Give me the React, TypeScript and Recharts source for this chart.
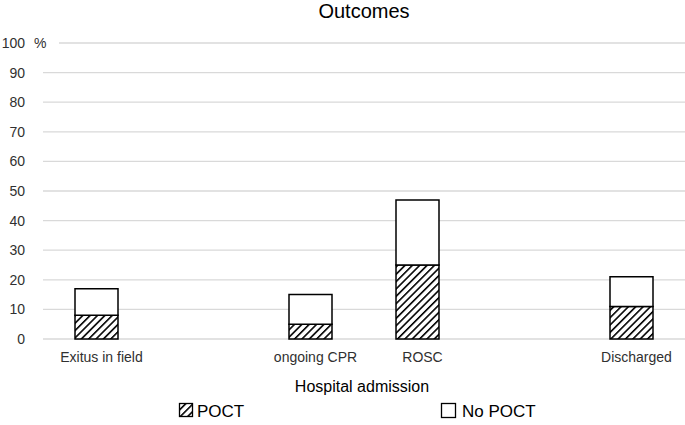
import React from 'react';
import { BarChart, Bar, XAxis, YAxis, CartesianGrid } from 'recharts';

const categories = ['Exitus in field', '', 'ongoing CPR', 'ROSC', '', 'Discharged'];
const poct = [8, null, 5, 25, null, 11];
const noPoct = [9, null, 10, 22, null, 10];
const yTicks = [0, 10, 20, 30, 40, 50, 60, 70, 80, 90, 100];

const data = categories.map((c, i) => ({ name: c, idx: i, poct: poct[i], noPoct: noPoct[i] }));

const FONT = '"Liberation Sans", Arial, sans-serif';

const YTick = (props: any) => {
  const { x, y, payload } = props;
  const v = payload.value;
  return (
    <g>
      {v === 100 && <rect x={43} y={y - 3} width={16} height={6} fill="#fff" />}
      <text x={x - 1} y={y} dy="0.35em" textAnchor="end" fontSize={14} fill="#303030" fontFamily={FONT}>{v}</text>
      {v === 100 && (
        <text x={34} y={y} dy="0.35em" textAnchor="start" fontSize={14} fill="#303030" fontFamily={FONT}>%</text>
      )}
    </g>
  );
};

const XTick = (props: any) => {
  const { x, y, payload } = props;
  return (
    <text x={x + 5} y={y} dy="0.71em" textAnchor="middle" fontSize={14} fill="#303030" fontFamily={FONT}>
      {categories[payload.value]}
    </text>
  );
};

export default function App() {
  return (
    <div style={{ position: 'absolute', left: 0, top: 0, width: 685, height: 425, background: '#fff' }}>
      <BarChart width={685} height={425} data={data} margin={{ top: 43, right: 0, bottom: 56, left: 0 }} barCategoryGap="0%">
        <defs>
          <pattern id="hatch" patternUnits="userSpaceOnUse" width="5.2" height="5.2" patternTransform="rotate(45)">
            <rect width="5.2" height="5.2" fill="#fff" />
            <line x1="0" y1="0" x2="0" y2="5.2" stroke="#000" strokeWidth="3.2" />
          </pattern>
        </defs>
        <CartesianGrid vertical={false} stroke="#d9d9d9" strokeWidth={1.3} />
        <XAxis dataKey="idx" type="category" height={30} axisLine={false} tickLine={false} tickSize={0} tickMargin={13} tick={<XTick />} interval={0} />
        <YAxis width={43} domain={[0, 100]} ticks={yTicks} axisLine={false} tickLine={false} tickSize={0} tickMargin={17} tick={<YTick />} interval={0} />
        <Bar dataKey="poct" stackId="a" fill="url(#hatch)" stroke="#000" strokeWidth={1.5} barSize={43} isAnimationActive={false} />
        <Bar dataKey="noPoct" stackId="a" fill="#fff" stroke="#000" strokeWidth={1.5} barSize={43} isAnimationActive={false} />
      </BarChart>
      <svg width={685} height={425} style={{ position: 'absolute', left: 0, top: 0, pointerEvents: 'none' }}>
        <text x={364} y={18} textAnchor="middle" fontSize={20} fill="#000" fontFamily={FONT}>Outcomes</text>
        <text x={362} y={392} textAnchor="middle" fontSize={16} fill="#000" fontFamily={FONT}>Hospital admission</text>
        <rect x={179.5} y={403.5} width={13} height={13} fill="url(#hatch)" stroke="#000" strokeWidth={1.3} />
        <text x={197} y={417} fontSize={17} fill="#000" fontFamily={FONT}>POCT</text>
        <rect x={441.5} y={403.5} width={14} height={14} fill="#fff" stroke="#000" strokeWidth={1.3} />
        <text x={462} y={417} fontSize={17} fill="#000" fontFamily={FONT}>No POCT</text>
      </svg>
    </div>
  );
}
